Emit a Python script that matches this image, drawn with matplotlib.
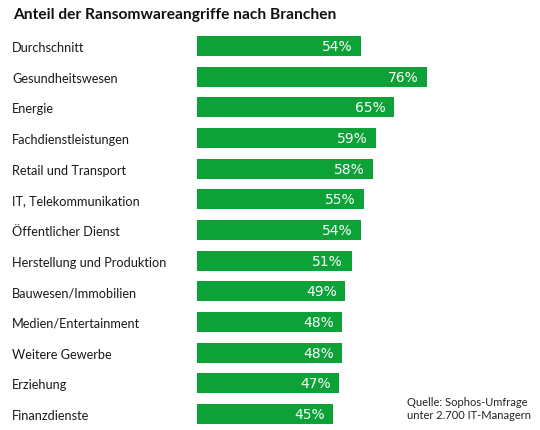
import matplotlib.pyplot as plt
from matplotlib.transforms import blended_transform_factory

# Daten
branchen = [
    "Durchschnitt",
    "Gesundheitswesen",
    "Energie",
    "Fachdienstleistungen",
    "Retail und Transport",
    "IT, Telekommunikation",
    "Öffentlicher Dienst",
    "Herstellung und Produktion",
    "Bauwesen/Immobilien",
    "Medien/Entertainment",
    "Weitere Gewerbe",
    "Erziehung",
    "Finanzdienste",
]
anteile = [54, 76, 65, 59, 58, 55, 54, 51, 49, 48, 48, 47, 45]

gruen = "#0ca238"
W, H = 540, 431

fig = plt.figure(figsize=(W / 100, H / 100), dpi=100)
fig.patch.set_facecolor("white")

# Achse: x=0 bei 197 px, ca. 3.03 px pro Prozentpunkt
x0 = 197
px_per_pct = 3.03
ax = fig.add_axes([x0 / W, 0, (W - x0) / W, 1])
ax.set_xlim(0, (W - x0) / px_per_pct)

# y: Mitte erster Balken bei 47 px, letzter bei 415 px
step = (415 - 47) / (len(branchen) - 1)
ax.set_ylim(len(branchen) - 1 + (H - 415) / step, -47 / step)
ax.axis("off")

pos = list(range(len(branchen)))
ax.barh(pos, anteile, height=20 / step, color=gruen)

for i, v in zip(pos, anteile):
    ax.text(v - 2.8, i, f"{v}%", ha="right", va="center",
            color="white", fontsize=10, family="DejaVu Sans")

trans = blended_transform_factory(fig.transFigure, ax.transData)
for i, name in zip(pos, branchen):
    fig.text(12 / W, i + 0.03, name, transform=trans, ha="left", va="center",
             fontsize=9.2, family="Lato", color="#1a1a1a")

fig.text(13 / W, 1 - 15 / H, "Anteil der Ransomwareangriffe nach Branchen",
         ha="left", va="center", fontsize=11.2, fontweight="bold",
         family="Lato", color="#111111")

fig.text(407 / W, 1 - 409 / H, "Quelle: Sophos-Umfrage\nunter 2.700 IT-Managern",
         ha="left", va="center", fontsize=8.0, family="Lato",
         color="#222222", linespacing=1.2)

fig.savefig("out.png", dpi=100)
